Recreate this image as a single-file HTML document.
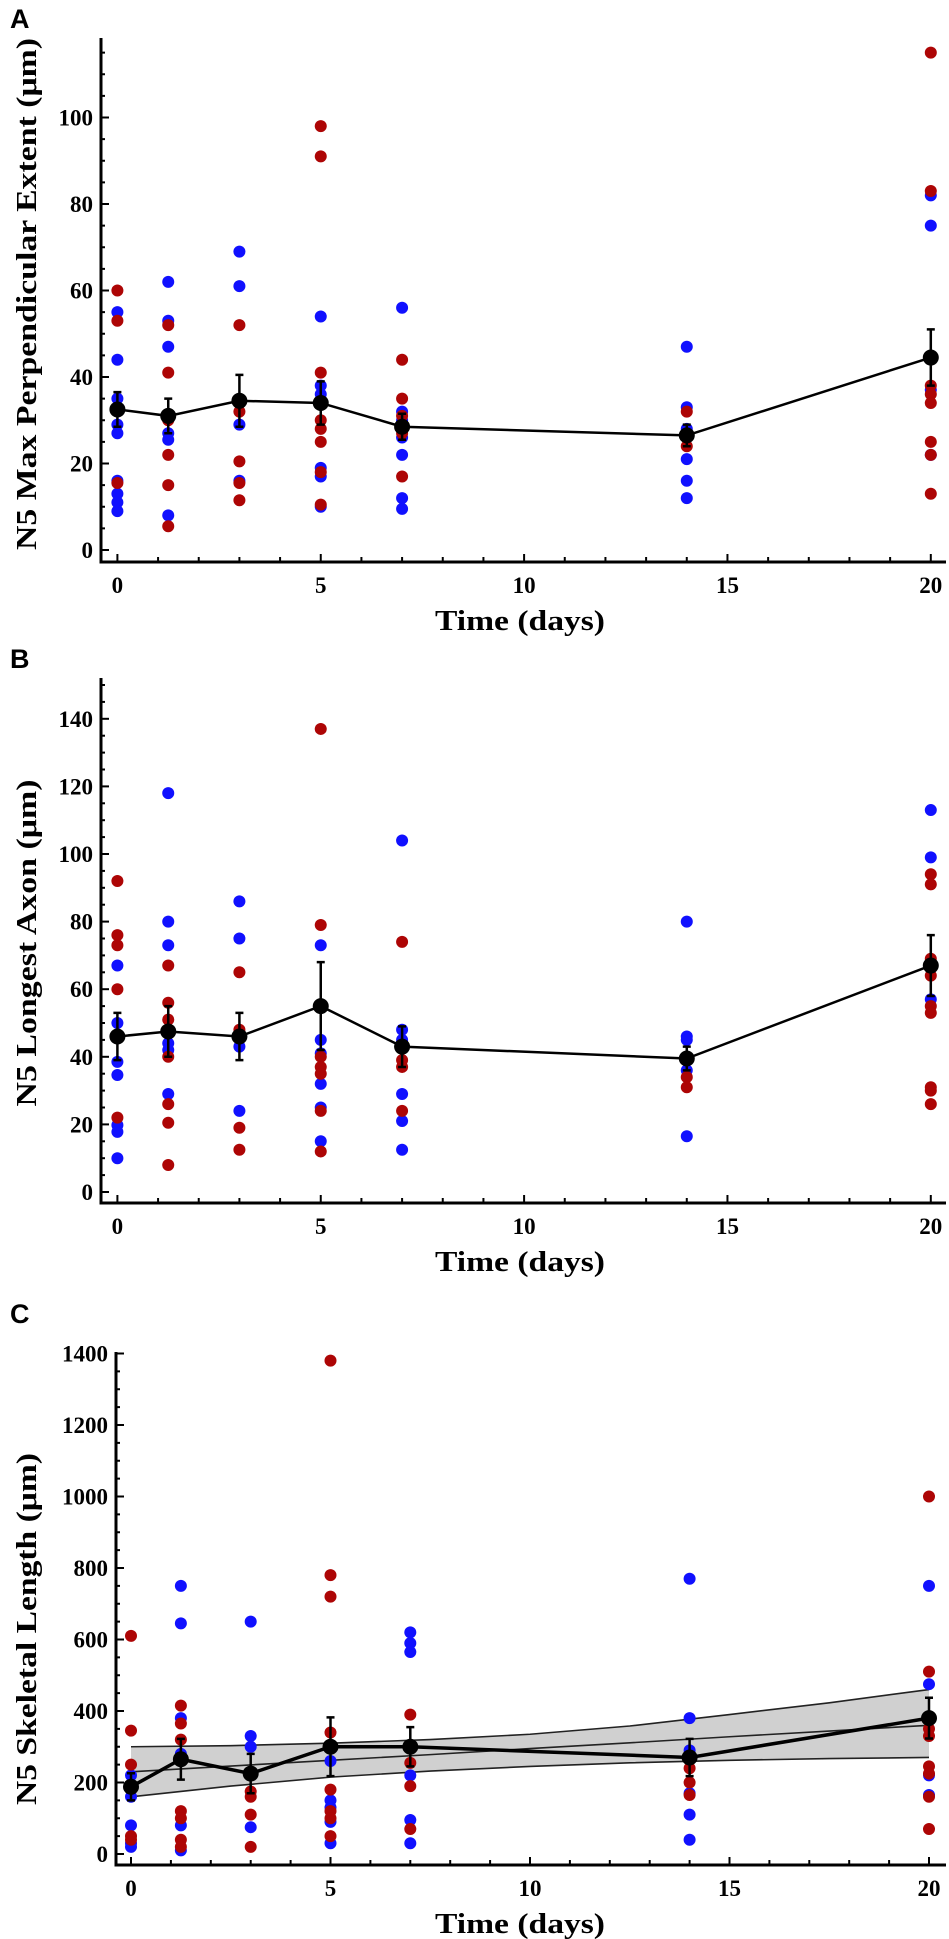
<!DOCTYPE html>
<html><head><meta charset="utf-8"><style>
html,body{margin:0;padding:0;background:#fff;}
svg{display:block;}
text{font-family:"Liberation Serif",serif;font-weight:bold;fill:#000;}
.pl{font-family:"Liberation Sans",sans-serif;font-weight:bold;font-size:27px;}
</style></head><body>
<svg id="fig" width="949" height="1939" viewBox="0 0 949 1939" xmlns="http://www.w3.org/2000/svg"></svg>
<script>
// ---- shared data ----
const days = [0, 1.25, 3, 5, 7, 14, 20];
const xTicks = [0, 5, 10, 15, 20];

// Panel A: Max Perpendicular Extent
const aBlue = [[55,44,35,29,27,16,13,11,9],[62,53,47,27,25.5,8],[69,61,29,16],[54,38,36,19,17,10],[56,32,30,26,22,12,9.5],[47,33,28,27,21,16,12],[82,75,37,22]];
const aRed  = [[60,53,15.5],[52,41,30,22,15,5.5],[52,34,32,20.5,15.5,11.5],[98,91,41,30,28,25,18,10.5],[44,35,31,27,17],[32,26,24],[115,83,38,36,34,25,22,13]];
const aMean = [32.5,31,34.5,34,28.5,26.5,44.5];
const aErr  = [4,4,6,5,3,2.5,6.5];
const aYTicks = [0,20,40,60,80,100];

// Panel B: Longest Axon
const bBlue = [[67,50,38.5,34.6,19.8,17.8,10],[118,80,73,44,42,29],[86,75,43,24],[73,45,41,32,25,15],[104,48,45,29,21,12.5],[80,46,45,36,16.5],[113,99,68,57]];
const bRed  = [[92,76,73,60,22],[67,56,51,40,26,20.5,8],[65,48,19,12.5],[137,79,40,37,35,24,12],[74,43,39,37,24],[34,31],[94,91,69,64,55,53,31,30,26]];
const bMean = [46,47.5,46,55,43,39.5,67];
const bErr  = [7,7.5,7,13,6,3.5,9];
const bYTicks = [0,20,40,60,80,100,120,140];

// Panel C: Skeletal Length
const cBlue = [[220,160,80,30,20],[750,645,380,280,80,10],[650,330,300,75],[300,260,150,130,90,30],[620,590,565,220,95,30],[770,380,290,170,110,40],[750,475,220,165]];
const cRed  = [[610,345,250,190,50,40],[415,365,320,120,100,40,20],[175,160,110,20],[1380,780,720,340,180,120,100,50],[390,255,190,70],[240,200,165],[1000,510,350,330,245,225,160,70]];
const cMean = [188,265,225,300,300,270,380];
const cErr  = [38,57,55,82,55,52,57];
const cYTicks = [0,200,400,600,800,1000,1200,1400];
const bandX = [0,2.5,5,7.5,10,12.5,15,17.5,20];
const bandUpper = [300,303,310,320,335,358,390,423,460];
const bandLower = [160,190,215,232,245,255,262,267,270];
const bandFit   = [230,246,262,278,295,311,328,344,360];

const svg = document.getElementById('fig');
const NS = 'http://www.w3.org/2000/svg';
function mk(tag, attrs, parent){
  const e = document.createElementNS(NS, tag);
  for (const k in attrs) e.setAttribute(k, attrs[k]);
  (parent||svg).appendChild(e);
  return e;
}

function panel(cfg){
  const g = mk('g', {});
  
  
  const X = d => cfg.x0 + d*cfg.xs;
  const Y = v => cfg.y0 - v*cfg.ys;

  // letter
  const L = mk('text', {x: cfg.letterX, y: cfg.letterY, class: 'pl'}, g);
  L.textContent = cfg.letter;
  
  

  // band
  if (cfg.band){
    let up = bandX.map((d,i)=>X(d)+','+Y(bandUpper[i]));
    let lo = bandX.map((d,i)=>X(d)+','+Y(bandLower[i])).reverse();
    const poly = mk('polygon', {points: up.concat(lo).join(' '), fill:'#d0d0d0', stroke:'none'}, g);
    
    
    [bandUpper, bandLower, bandFit].forEach(arr=>{
      const pl = mk('polyline', {points: bandX.map((d,i)=>X(d)+','+Y(arr[i])).join(' '), fill:'none', stroke:'#222', 'stroke-width':1.6}, g);
      
      
    });
  }

  // points
  cfg.blue.forEach((vals,i)=>vals.forEach(v=>{
    const c = mk('circle', {cx: X(days[i]), cy: Y(v), r: 6, fill:'#1010ff'}, g);
    
    
  }));
  cfg.red.forEach((vals,i)=>vals.forEach(v=>{
    const c = mk('circle', {cx: X(days[i]), cy: Y(v), r: 6, fill:'#ad0505'}, g);
    
    
  }));

  // mean line
  const ml = mk('polyline', {points: days.map((d,i)=>X(d)+','+Y(cfg.mean[i])).join(' '), fill:'none', stroke:'#000', 'stroke-width': cfg.band?3.5:2.5}, g);
  
  
  days.forEach((d,i)=>{
    const x = X(d), yt = Y(cfg.mean[i]+cfg.err[i]), yb = Y(cfg.mean[i]-cfg.err[i]);
    const eb = mk('path', {d:`M${x},${yt}V${yb}M${x-4},${yt}H${x+4}M${x-4},${yb}H${x+4}`, stroke:'#000', 'stroke-width':2.5, fill:'none'}, g);
    
    
    const m = mk('circle', {cx:x, cy:Y(cfg.mean[i]), r:8, fill:'#000'}, g);
    
    
  });

  // axes
  const ax = mk('path', {d:`M${cfg.axX},${cfg.axTop}V${cfg.axY}H946`, stroke:'#000', 'stroke-width':3, fill:'none'}, g);
  
  
  // x ticks
  for (let d=0; d<=20; d++){
    const big = d%5===0;
    mk('line', {x1:X(d), x2:X(d), y1:cfg.axY, y2:cfg.axY-(big?8:5), stroke:'#000', 'stroke-width':2}, g);
  }
  xTicks.forEach(t=>{
    const tx = mk('text', {x:X(t), y:cfg.axY+31, 'text-anchor':'middle', 'font-size':23}, g);
    tx.textContent = t;
    
    
  });
  // y ticks
  const maxV = (cfg.y0 - cfg.axTop)/cfg.ys;
  for (let v=0; v<=maxV; v+=cfg.minor){
    const big = Math.abs(v % cfg.major) < 1e-6;
    mk('line', {x1:cfg.axX, x2:cfg.axX+(big?8:4), y1:Y(v), y2:Y(v), stroke:'#000', 'stroke-width':2}, g);
  }
  cfg.yTicks.forEach(t=>{
    const ty = mk('text', {x:cfg.axX-8, y:Y(t)+8, 'text-anchor':'end', 'font-size':23}, g);
    ty.textContent = t;
    
    
  });
  // titles
  const xt = mk('text', {x:520, y:cfg.axY+68, 'text-anchor':'middle', 'font-size':28, textLength:170, lengthAdjust:'spacingAndGlyphs'}, g);
  xt.textContent = 'Time (days)';
  
  
  const yt = mk('text', {x:0, y:0, 'text-anchor':'middle', 'font-size':28, textLength:cfg.ylLen, lengthAdjust:'spacingAndGlyphs', transform:`translate(36,${cfg.ylC}) rotate(-90)`}, g);
  yt.textContent = cfg.ylabel;
  
  
}

panel({name:'panel-a', letter:'A', letterX:10, letterY:28, x0:117.4, xs:40.67, y0:550, ys:4.325,
  axX:101, axTop:38, axY:562, minor:5, major:20, yTicks:aYTicks,
  blue:aBlue, red:aRed, mean:aMean, err:aErr, ylabel:'N5 Max Perpendicular Extent (μm)', ylLen:512, ylC:294});
panel({name:'panel-b', letter:'B', letterX:10, letterY:668, x0:117.4, xs:40.67, y0:1192, ys:3.38,
  axX:101, axTop:678, axY:1203, minor:5, major:20, yTicks:bYTicks,
  blue:bBlue, red:bRed, mean:bMean, err:bErr, ylabel:'N5 Longest Axon (μm)', ylLen:327, ylC:943});
panel({name:'panel-c', letter:'C', letterX:10, letterY:1323, x0:131, xs:39.9, y0:1854, ys:0.3575,
  axX:116, axTop:1352, axY:1865, minor:50, major:200, yTicks:cYTicks, band:true,
  blue:cBlue, red:cRed, mean:cMean, err:cErr, ylabel:'N5 Skeletal Length (μm)', ylLen:352, ylC:1629});
</script>
</body></html>
